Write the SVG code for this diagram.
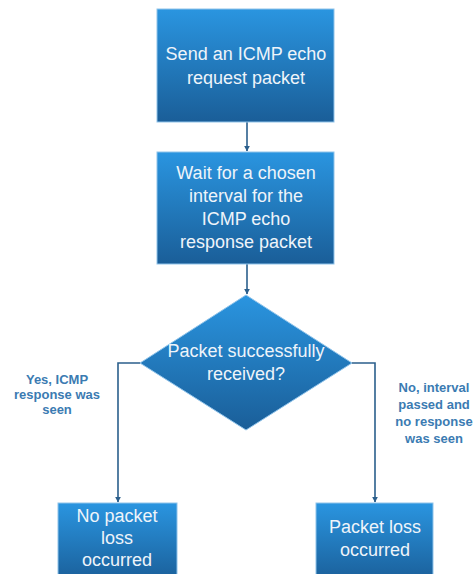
<svg xmlns="http://www.w3.org/2000/svg" width="474" height="574" viewBox="0 0 474 574">
  <defs>
    <linearGradient id="fill" x1="0" y1="0" x2="0" y2="1">
      <stop offset="0" stop-color="#2a95e0"/>
      <stop offset="1" stop-color="#1a5e98"/>
    </linearGradient>
    <marker id="arrow" viewBox="0 0 10 10" refX="9" refY="5" markerWidth="6" markerHeight="6" orient="auto" markerUnits="userSpaceOnUse">
      <path d="M0,0 L10,5 L0,10 z" fill="#2b5f8c"/>
    </marker>
    <style>
      .shape { fill: url(#fill); stroke: #8fc3ea; stroke-width: 1; }
      .label { font-family: "Liberation Sans", Arial, sans-serif; font-size: 18px; fill: #eef4fa; text-anchor: middle; }
      .note { font-family: "Liberation Sans", Arial, sans-serif; font-size: 13px; font-weight: bold; fill: #3b7bb2; text-anchor: middle; }
      .wire { fill: none; stroke: #2b5f8c; stroke-width: 1.6; marker-end: url(#arrow); }
    </style>
  </defs>
  <rect width="474" height="574" fill="#ffffff"/>

  <g id="connectors">
    <path class="wire" d="M247,122 V151"/>
    <path class="wire" d="M247,264 V294"/>
    <path class="wire" d="M140,363 H118 V502"/>
    <path class="wire" d="M352,363 H375 V502"/>
  </g>

  <g id="send-request">
    <rect class="shape" x="157" y="9" width="177" height="113"/>
    <text class="label" x="246" y="60">Send an ICMP echo</text>
    <text class="label" x="246" y="84">request packet</text>
  </g>

  <g id="wait-interval">
    <rect class="shape" x="157" y="152" width="177" height="112"/>
    <text class="label" x="246" y="179">Wait for a chosen</text>
    <text class="label" x="246" y="202">interval for the</text>
    <text class="label" x="246" y="225">ICMP echo</text>
    <text class="label" x="246" y="248">response packet</text>
  </g>

  <g id="received-decision">
    <polygon class="shape" points="246,295 352,363 246,430 140,363"/>
    <text class="label" x="246" y="357">Packet successfully</text>
    <text class="label" x="246" y="380">received?</text>
  </g>

  <g id="yes-label">
    <text class="note" x="57" y="384">Yes, ICMP</text>
    <text class="note" x="57" y="399">response was</text>
    <text class="note" x="57" y="414">seen</text>
  </g>

  <g id="no-label">
    <text class="note" x="434" y="392">No, interval</text>
    <text class="note" x="434" y="409">passed and</text>
    <text class="note" x="434" y="426">no response</text>
    <text class="note" x="434" y="443">was seen</text>
  </g>

  <g id="no-loss">
    <rect class="shape" x="58" y="503" width="119" height="80"/>
    <text class="label" x="117" y="522">No packet</text>
    <text class="label" x="117" y="544">loss</text>
    <text class="label" x="117" y="566">occurred</text>
  </g>

  <g id="loss">
    <rect class="shape" x="316" y="503" width="117" height="80"/>
    <text class="label" x="375" y="533">Packet loss</text>
    <text class="label" x="375" y="556">occurred</text>
  </g>
</svg>
